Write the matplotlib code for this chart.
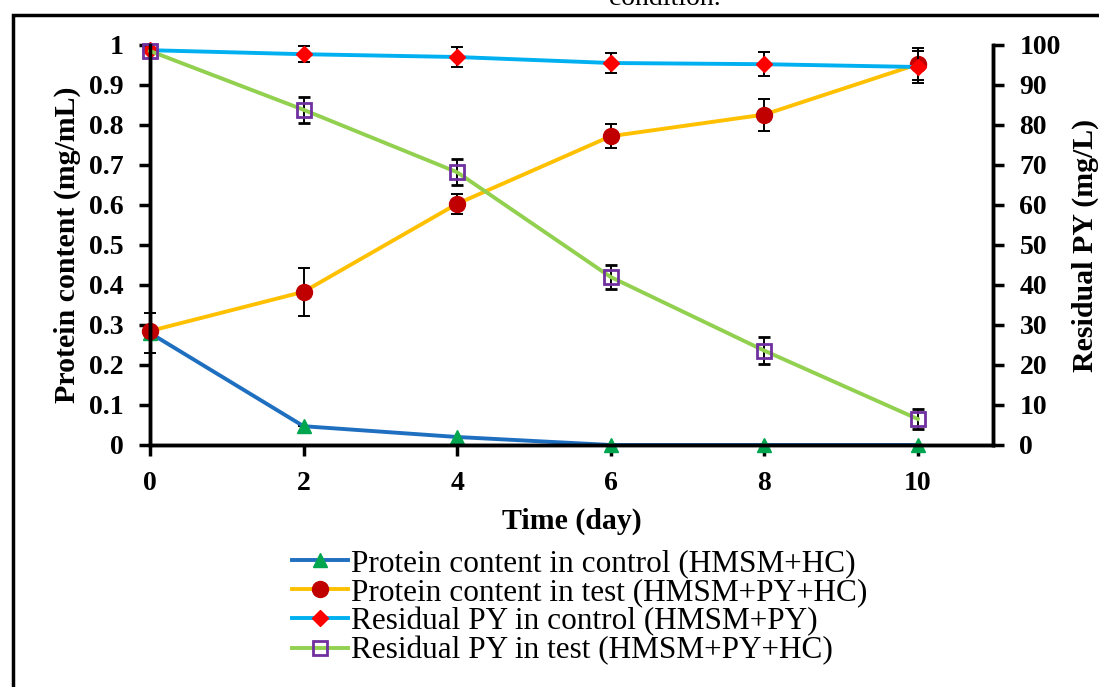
import matplotlib
matplotlib.use('Agg')

import numpy as np
from matplotlib import pyplot as plt
from matplotlib.patches import Rectangle
from matplotlib.lines import Line2D

plt.rcParams['font.family'] = 'Liberation Serif'

days = [0, 2, 4, 6, 8, 10]

prot_ctrl = [0.28, 0.047, 0.02, 0.0, 0.0, 0.0]
prot_ctrl_err = [0.05, 0, 0, 0, 0, 0]

prot_test = [0.285, 0.383, 0.603, 0.772, 0.826, 0.952]
prot_test_err = [0.0, 0.06, 0.025, 0.03, 0.04, 0.04]

py_ctrl = [98.7, 97.7, 97.0, 95.5, 95.2, 94.5]
py_ctrl_err = [0.0, 2.0, 2.5, 2.5, 3.0, 4.0]

py_test = [98.5, 83.8, 68.2, 42.0, 23.6, 6.5]
py_test_err = [0.0, 3.3, 3.3, 3.0, 3.3, 2.5]

labels = ['Protein content in control (HMSM+HC)',
          'Protein content in test (HMSM+PY+HC)',
          'Residual PY in control (HMSM+PY)',
          'Residual PY in test (HMSM+PY+HC)']

fig = plt.figure(figsize=(10.99, 6.87), dpi=100)
ax = fig.add_axes([150/1099, 1-445/687, 843/1099, 400/687])
ax2 = ax.twinx()

lw = 2.8
ekw = dict(ecolor='black', elinewidth=1.4, capsize=4, capthick=1.4)

styles = [
    dict(color='#1F6FC0', marker='^', ms=10, mfc='#00A550', mec='#00A550'),
    dict(color='#FFC000', marker='o', ms=11.5, mfc='#C00000', mec='#C00000'),
    dict(color='#00B0F0', marker='D', ms=8.5, mfc='#FF0000', mec='#FF0000'),
    dict(color='#92D050', marker='s', ms=10, mfc='none', mec='#7030A0', mew=2),
]

containers = [
    ax.errorbar(days, prot_ctrl, yerr=prot_ctrl_err, lw=lw, **styles[0], **ekw),
    ax.errorbar(days, prot_test, yerr=prot_test_err, lw=lw, **styles[1], **ekw),
    ax2.errorbar(days, py_ctrl, yerr=py_ctrl_err, lw=lw, **styles[2], **ekw),
    ax2.errorbar(days, py_test, yerr=py_test_err, lw=lw, **styles[3], **ekw),
]
for c in containers:
    for child in c.get_children():
        child.set_clip_on(False)

for a in (ax, ax2):
    a.set_xlim(0, 10.98)
    a.spines['top'].set_visible(False)
    for s in ('left', 'right', 'bottom'):
        a.spines[s].set_linewidth(2.5)
    a.tick_params(direction='out', width=2.5, length=8, labelsize=20, pad=11)

ax.set_ylim(0, 1)
ax.set_yticks(np.arange(0, 1.01, 0.1))
ax.set_yticklabels(['0', '0.1', '0.2', '0.3', '0.4', '0.5', '0.6', '0.7', '0.8', '0.9', '1'],
                   fontweight='bold')
ax.set_xticks(days)
ax.set_xticklabels([str(d) for d in days], fontweight='bold')
ax2.set_ylim(0, 100)
ax2.set_yticks(np.arange(0, 101, 10))
ax2.set_yticklabels([str(v) for v in range(0, 101, 10)], fontweight='bold')

ax.set_xlabel('Time (day)', fontsize=21.5, fontweight='bold', labelpad=8)
ax.set_ylabel('Protein content (mg/mL)', fontsize=21.5, fontweight='bold', labelpad=6)
ax2.set_ylabel('Residual PY (mg/L)', fontsize=21.5, fontweight='bold', labelpad=8)

handles = [Line2D([], [], lw=lw, **st) for st in styles]
fig.legend(handles, labels, loc='upper left',
           bbox_to_anchor=(292/1099, 1-549/687), frameon=False, fontsize=22.5,
           handlelength=1.8, handletextpad=0.1, labelspacing=0.0, borderpad=0,
           borderaxespad=0)

fig.text(665/1099, 1-5/687, 'condition.', ha='center', va='baseline', fontsize=20)
fig.patches.append(Rectangle((13/1099, -0.05), 1.2, 1-15/687+0.05, transform=fig.transFigure,
                             fill=False, ec='black', lw=2.5))

plt.savefig('out.png', dpi=100)
